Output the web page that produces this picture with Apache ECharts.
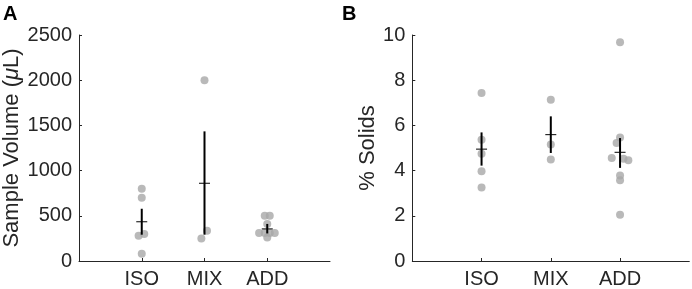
<!DOCTYPE html>
<html>
<head>
<meta charset="utf-8">
<script src="https://cdn.jsdelivr.net/npm/echarts@6/dist/echarts.min.js"></script>
<style>html,body{margin:0;padding:0;background:#fff}#c{width:692px;height:289px}</style>
</head>
<body>
<div id="c"></div>
<script>
// ---- data ----
const categories = ['ISO', 'MIX', 'ADD'];

// Panel A: Sample Volume (µL)
const volISO = [800, 700, 280, 300, 80];
const volISOJitter = [0, 0, -0.05, 0.04, 0];
const volMIX = [2000, 335, 250];
const volMIXJitter = [0, 0.04, -0.05];
const volADD = [500, 500, 410, 310, 310, 310, 310, 260];
const volADDJitter = [-0.04, 0.04, 0, -0.13, -0.04, 0.04, 0.12, 0];
const volMean = [434, 860, 355];
const volLow = [291, 291, 305];
const volHigh = [578, 1434, 410];
const volTicks = [0, 500, 1000, 1500, 2000, 2500];

// Panel B: % Solids
const solISO = [7.43, 5.37, 4.75, 3.97, 3.25];
const solISOJitter = [0, 0, 0, 0, 0];
const solMIX = [7.13, 5.15, 4.49];
const solMIXJitter = [0, 0, 0];
const solADD = [9.68, 5.47, 5.22, 4.56, 4.52, 4.46, 3.78, 3.57, 2.05];
const solADDJitter = [0, 0, -0.05, -0.12, 0.05, 0.12, 0, 0, 0];
const solMean = [4.95, 5.59, 4.81];
const solLow = [4.22, 4.78, 4.12];
const solHigh = [5.69, 6.40, 5.44];
const solTicks = [0, 2, 4, 6, 8, 10];

// ---- build ----
const FONT = 'Liberation Sans, Arial, sans-serif';
const AX = '#262626';
function pts(groups) {
  const out = [];
  groups.forEach((g, gi) => g.vals.forEach((v, i) => out.push([gi + 1 + g.jit[i], v])));
  return out;
}
function errData(mean, lo, hi) {
  return mean.map((m, i) => [i + 1, m, lo[i], hi[i]]);
}
function renderErr(params, api) {
  const x = api.value(0), m = api.value(1), lo = api.value(2), hi = api.value(3);
  const pm = api.coord([x, m]), pl = api.coord([x, lo]), ph = api.coord([x, hi]);
  return {
    type: 'group',
    children: [
      {type: 'line', shape: {x1: pl[0], y1: pl[1], x2: ph[0], y2: ph[1]}, style: {stroke: '#000', lineWidth: 2}},
      {type: 'line', shape: {x1: pm[0] - 5.5, y1: pm[1], x2: pm[0] + 5.5, y2: pm[1]}, style: {stroke: '#000', lineWidth: 1}}
    ]
  };
}
function xAx(gi) {
  return {
    type: 'value', gridIndex: gi, min: 0, max: 4,
    axisLine: {show: true, lineStyle: {color: AX, width: 1}},
    axisTick: {show: true, inside: true, length: 3, customValues: [1, 2, 3], lineStyle: {color: AX}},
    axisLabel: {customValues: [1, 2, 3], formatter: v => categories[Math.round(v) - 1] || '',
      fontSize: 20, fontFamily: FONT, color: AX, margin: 8},
    splitLine: {show: false}
  };
}
function yAx(gi, ticks, name, gap) {
  return {
    type: 'value', gridIndex: gi, min: ticks[0], max: ticks[ticks.length - 1],
    interval: ticks[1] - ticks[0],
    axisLine: {show: true, lineStyle: {color: AX, width: 1}},
    axisTick: {show: true, inside: true, length: 3, lineStyle: {color: AX}},
    axisLabel: {fontSize: 20, fontFamily: FONT, color: AX, margin: 7, formatter: v => String(v)},
    splitLine: {show: false},
    name: name, nameLocation: 'middle', nameGap: gap, nameRotate: 90,
    nameTextStyle: {fontSize: 22, fontFamily: FONT, color: AX,
      rich: {a: {fontSize: 22, fontFamily: FONT, color: AX}, i: {fontSize: 22, fontFamily: FONT, color: AX, fontStyle: 'italic'}}}
  };
}
const dot = {color: '#a8a8a8'};
const chart = echarts.init(document.getElementById('c'), null, {renderer: 'canvas'});
chart.setOption({
  animation: false,
  grid: [
    {left: 79, top: 35, width: 251, height: 226.7},
    {left: 412.3, top: 35, width: 277, height: 226.7}
  ],
  xAxis: [xAx(0), xAx(1)],
  yAxis: [
    yAx(0, volTicks, '{a|Sample Volume (}{i|μ}{a|L)}', 56),
    yAx(1, solTicks, '% Solids', 33)
  ],
  graphic: [
    {type: 'text', left: 3, top: 4, style: {text: 'A', fontSize: 20, fontWeight: 'bold', fontFamily: FONT, fill: '#000'}},
    {type: 'text', left: 342, top: 4, style: {text: 'B', fontSize: 20, fontWeight: 'bold', fontFamily: FONT, fill: '#000'}}
  ],
  series: [
    {type: 'scatter', xAxisIndex: 0, yAxisIndex: 0, symbolSize: 8, itemStyle: dot,
      data: pts([{vals: volISO, jit: volISOJitter}, {vals: volMIX, jit: volMIXJitter}, {vals: volADD, jit: volADDJitter}])},
    {type: 'custom', xAxisIndex: 0, yAxisIndex: 0, renderItem: renderErr, data: errData(volMean, volLow, volHigh), z: 5},
    {type: 'scatter', xAxisIndex: 1, yAxisIndex: 1, symbolSize: 8, itemStyle: dot,
      data: pts([{vals: solISO, jit: solISOJitter}, {vals: solMIX, jit: solMIXJitter}, {vals: solADD, jit: solADDJitter}])},
    {type: 'custom', xAxisIndex: 1, yAxisIndex: 1, renderItem: renderErr, data: errData(solMean, solLow, solHigh), z: 5}
  ]
});
</script>
</body>
</html>
